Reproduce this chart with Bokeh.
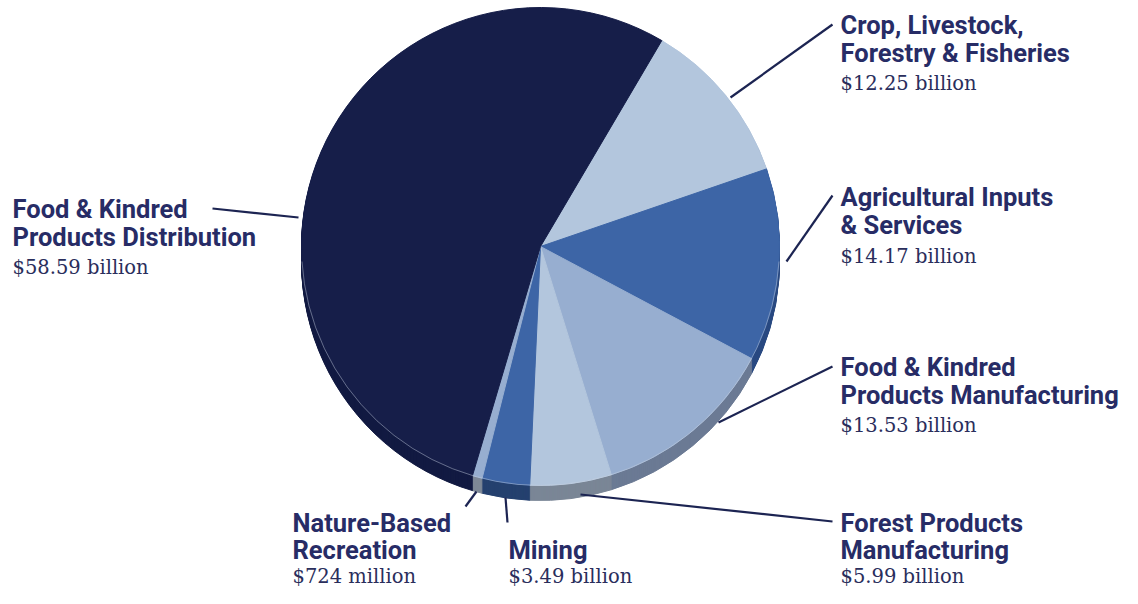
import numpy as np
from bokeh.plotting import figure
from bokeh.models import Range1d, ColumnDataSource
from bokeh.core.properties import value
from bokeh.embed import file_html
from bokeh.resources import INLINE

# ---------------- data (clockwise from the top) ----------------
categories = [
    "Crop, Livestock,\nForestry & Fisheries",
    "Agricultural Inputs\n& Services",
    "Food & Kindred\nProducts Manufacturing",
    "Forest Products\nManufacturing",
    "Mining",
    "Nature-Based\nRecreation",
    "Food & Kindred\nProducts Distribution",
]
amounts = [12.25, 14.17, 13.53, 5.99, 3.49, 0.724, 58.59]  # $ billion
amount_labels = ["$12.25 billion", "$14.17 billion", "$13.53 billion",
                 "$5.99 billion", "$3.49 billion", "$724 million", "$58.59 billion"]
top_colors = ["#b3c6dd", "#3d65a6", "#97aed0", "#b3c6dd", "#3d65a6", "#97aed0", "#161e49"]
side_colors = ["#7f8a9a", "#2a4a82", "#6b7a94", "#7a8696", "#25416f", "#7e8897", "#121a42"]

# ---------------- layout (picture pixel coords -> data) ----------------
W, H = 1122, 588
def Y(py):
    return H - py

CX, CY = 540, Y(246)
R = 239
DEPTH = 15
START = np.radians(59.5)

# label anchors: (x, visual baseline of first line) in picture pixels
label_pos = [(840, 33), (840, 205), (840, 375), (840, 531), (508, 558), (292, 531), (12, 217)]
# leader lines: (pie end) -> (label end) in picture pixels
leaders = [((730, 97), (832, 24)), ((786, 261), (832, 195)), ((718, 422), (832, 366)),
           ((580, 494), (832, 521)), ((505, 497), (507, 522)), ((476, 491), (465, 506)),
           ((212, 208), (298, 217))]

TITLE_GAP = [28.4, 28.4, 28.4, 27, 27, 27, 28.4]
VALUE_GAP = [27.8, 28.4, 28, 24, 24, 24, 27.6]
TITLE_DY = 9   # text renders below its anchor; lift anchors to compensate
VALUE_DY = 6
TITLE_COLOR = "#272c66"
VALUE_COLOR = "#2a2e5c"
LINE_COLOR = "#1c2452"

# ---------------- angles ----------------
frac = np.array(amounts) / np.sum(amounts)
span = frac * 2 * np.pi
hi = START - np.concatenate([[0.0], np.cumsum(span)[:-1]])
lo = hi - span

p = figure(width=W, height=H, output_backend="svg", toolbar_location=None,
           x_range=Range1d(0, W), y_range=Range1d(0, H),
           x_axis_type=None, y_axis_type=None, min_border=0)
p.outline_line_color = None
p.grid.visible = False
p.background_fill_color = "white"
p.border_fill_color = "white"

# side (extrusion) of the pie
sx, sy, sa, se, sc = [], [], [], [], []
for k in range(DEPTH, 0, -1):
    for i in range(len(amounts)):
        sx.append(CX); sy.append(CY - k); sa.append(lo[i]); se.append(hi[i]); sc.append(side_colors[i])
side_src = ColumnDataSource(dict(x=sx, y=sy, s=sa, e=se, c=sc))
p.wedge(x="x", y="y", radius=R, start_angle="s", end_angle="e", source=side_src,
        fill_color="c", line_color="c", line_width=1)

# top face
top_src = ColumnDataSource(dict(x=[CX] * len(amounts), y=[CY] * len(amounts),
                                s=list(lo), e=list(hi), c=top_colors))
p.wedge(x="x", y="y", radius=R, start_angle="s", end_angle="e", source=top_src,
        fill_color="c", line_color="c", line_width=1)

# faint highlight on the front rim of the top face
p.arc(x=CX, y=CY, radius=R, start_angle=np.pi * 1.02, end_angle=np.pi * 1.98,
      line_color="#cdd6e4", line_width=0.8, line_alpha=0.55)

# leader lines
p.segment(x0=[a[0] for a, b in leaders], y0=[Y(a[1]) for a, b in leaders],
          x1=[b[0] for a, b in leaders], y1=[Y(b[1]) for a, b in leaders],
          line_color=LINE_COLOR, line_width=2.2)

# labels
tx, ty, tt, vx, vy, vt = [], [], [], [], [], []
for i, ((lx, ly), cat, val) in enumerate(zip(label_pos, categories, amount_labels)):
    lines = cat.split("\n")
    for j, ln in enumerate(lines):
        tx.append(lx); ty.append(Y(ly + j * TITLE_GAP[i] - TITLE_DY)); tt.append(ln)
    vbase = ly + (len(lines) - 1) * TITLE_GAP[i] + VALUE_GAP[i]
    vx.append(lx); vy.append(Y(vbase - VALUE_DY)); vt.append(val)

p.text(x=tx, y=ty, text=tt, text_font=value("Roboto"), text_font_style="bold",
       text_font_size="25.5px", text_color=TITLE_COLOR, text_baseline="alphabetic", text_align="left")
p.text(x=vx, y=vy, text=vt, text_font=value("DejaVu Serif"), text_font_style="normal",
       text_font_size="19.5px", text_color=VALUE_COLOR, text_baseline="alphabetic", text_align="left")

open("out.html", "w").write(file_html(p, INLINE))
